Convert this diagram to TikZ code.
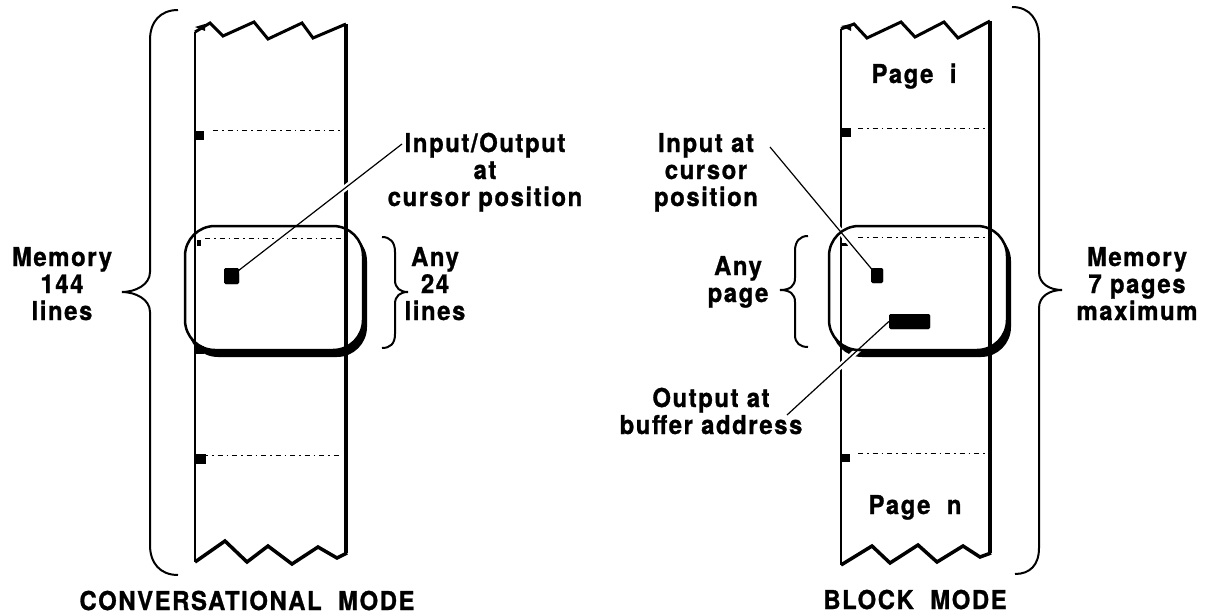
\documentclass[tikz,border=0pt]{standalone}
\usepackage{fontspec}
\newfontfamily\labfont{TeX Gyre Heros}[LetterSpace=6,FakeStretch=0.92,FakeBold=1]
\tikzset{
 edgeL/.style={line width=2pt},
 edgeR/.style={line width=3.5pt},
 zig/.style={line width=3pt, line join=miter},
 rulerline/.style={line width=0.8pt, dash pattern=on 5pt off 4pt on 1.5pt off 4pt},
 tab/.style={fill=black},
 win/.style={line width=2.5pt, rounded corners=30pt},
 shadowfill/.style={fill=black, rounded corners=30pt},
 brace/.style={line width=2pt},
 leader/.style={line width=1.2pt, preaction={draw=white, line width=6pt}},
 lab/.style={font=\labfont\bfseries\fontsize{26}{27}\selectfont, align=center, inner sep=0pt, anchor=base},
 dot/.style={fill=black, inner sep=0pt, rounded corners=1.5pt},
}
\begin{document}
\begin{tikzpicture}[x=1pt,y=-1pt]
\useasboundingbox (0,0) rectangle (1207,615);
% window shadows and fills
\fill[shadowfill] (188,231) rectangle (367,357);
\fill[white, rounded corners=30pt] (185,226) rectangle (363,350);
\fill[shadowfill] (832,231) rectangle (1011,357);
\fill[white, rounded corners=30pt] (829,226) rectangle (1007,350);
% left strip
\draw[edgeL] (195,32) -- (195,562);
\draw[edgeR] (346,24) -- (346,553);
\draw[zig] (195,32) -- (210,23) -- (223,36) -- (254,22) -- (268,39) -- (302,23) -- (313,38) -- (346,24);
\draw[zig, line width=3.5pt] (195,562) -- (225,541) -- (247,562) -- (268,546) -- (292,564) -- (318,547) -- (337,558) -- (347,553);
\draw[rulerline] (213,130) -- (342,130);
\draw[rulerline] (205,238) -- (342,238);
\draw[rulerline] (203,455) -- (342,455);
\fill[tab] (195,27) -- (205,24) -- (205,31) -- cycle;
\fill[tab] (196,131) rectangle (204,140);
\fill[tab] (197,240) rectangle (201,246);
\fill[tab] (196,346) rectangle (204,354);
\fill[tab] (196,454) rectangle (206,464);
% right strip
\draw[edgeL] (841,29) -- (841,565);
\draw[edgeR] (990,21) -- (990,553);
\draw[zig] (841,29) -- (854,24) -- (867,38) -- (901,22) -- (915,37) -- (944,22) -- (958,38) -- (990,21);
\draw[zig, line width=3.5pt] (841,565) -- (872,546) -- (890,563) -- (918,545) -- (937,562) -- (963,546) -- (980,557) -- (991,553);
\draw[rulerline] (858,128) -- (987,128);
\draw[rulerline] (858,237) -- (985,237);
\draw[rulerline] (858,453) -- (987,453);
\fill[tab] (841,26) -- (851,24) -- (851,31) -- cycle;
\fill[tab] (842,128) rectangle (851,137);
\fill[tab] (842,243) rectangle (848,246);
\fill[tab] (842,454) rectangle (850,462);
% page labels
\node[lab] (pi) at (914,83) {Page\ \ i};
\node[lab] (pn) at (915,514) {Page\ \ n};
% markers
\node[dot, minimum width=15pt, minimum height=16pt] (sq1) at (231.5,276) {};
\node[dot, minimum width=12pt, minimum height=15pt] (sq2) at (877,275.5) {};
\node[dot, minimum width=41pt, minimum height=15pt] (bar) at (909.5,321.5) {};
% leaders
\coordinate (t1) at (402,144);
\coordinate (t2) at (770,147);
\coordinate (t3) at (787,415);
\draw[leader] (t1) -- (sq1.center);
\draw[leader] (t2) -- (sq2.center);
\draw[leader] (t3) -- (bar.west);
% window outlines
\draw[win] (185,226) rectangle (363,350);
\draw[win] (829,226) rectangle (1007,350);
% redraw markers on top
\node[dot, minimum width=15pt, minimum height=16pt] (sq1b) at (sq1) {};
\node[dot, minimum width=12pt, minimum height=15pt] (sq2b) at (sq2) {};
\node[dot, minimum width=41pt, minimum height=15pt] (barb) at (bar) {};
% braces
\draw[brace] (178,10) .. controls (160,10) and (150,22) .. (150,40) -- (150,272) .. controls (150,285) and (135,292) .. (122,292) .. controls (135,292) and (150,299) .. (150,312) -- (150,545) .. controls (150,563) and (160,575) .. (178,575);
\draw[brace] (1012,7) .. controls (1030,7) and (1039,20) .. (1039,38) -- (1039,272) .. controls (1039,284) and (1050,290) .. (1062,290) .. controls (1050,290) and (1039,296) .. (1039,308) -- (1039,548) .. controls (1039,565) and (1030,574) .. (1015,574);
\draw[brace] (382,237) .. controls (390,237) and (395,242) .. (395,252) -- (395,280) .. controls (395,288) and (400,292) .. (408,292) .. controls (400,292) and (395,296) .. (395,304) -- (395,334) .. controls (395,344) and (390,348) .. (382,348);
\draw[brace] (808,236) .. controls (800,236) and (795,241) .. (795,251) -- (795,278) .. controls (795,286) and (790,290) .. (780,290) .. controls (790,290) and (795,294) .. (795,302) -- (795,335) .. controls (795,343) and (800,347) .. (808,347);
% labels (anchor = baseline of last line)
\node[lab] (mem1) at (62,320) {Memory\\144\\lines};
\node[lab] (any1) at (435,320) {Any\\24\\lines};
\node[lab] (io) at (485,206) {Input/Output\\at\\cursor position};
\node[lab] (inp) at (706,206) {Input at\\cursor\\position};
\node[lab] (any2) at (738,302) {Any\\page};
\node[lab] (mem2) at (1137,320) {Memory\\7 pages\\maximum};
\node[lab] (outp) at (711,434) {Output at\\buffer address};
\node[lab] (conv) at (247,610) {CONVERSATIONAL\ \ MODE};
\node[lab] (blk) at (915,609) {BLOCK\ \ MODE};
\end{tikzpicture}
\end{document}
